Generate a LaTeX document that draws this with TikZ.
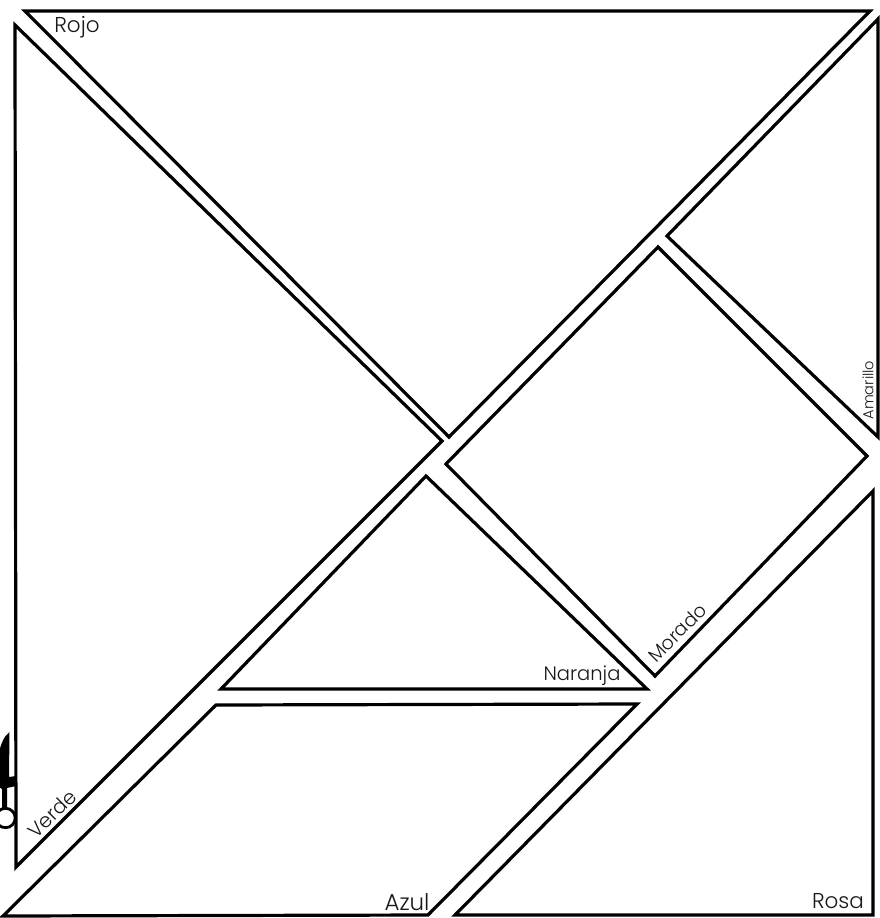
\documentclass[tikz,border=0pt]{standalone}
\usepackage{fontspec}
\setmainfont{Poppins Light}
\tikzset{
  piece/.style={draw=black,line width=3.2pt,line join=miter,miter limit=10,fill=white},
  lbl/.style={inner sep=0pt,text=black!90},
}
\begin{document}
\begin{tikzpicture}[x=1pt,y=-1pt]
\useasboundingbox (0,0) rectangle (880,918);
\fill[white] (0,0) rectangle (880,918);
% scissors
\begin{scope}
\clip (0,0) rectangle (880,918);
\fill[black] (9.5,732) .. controls (4,736) and (1,744) .. (-1,752) -- (-1,787) -- (2,789) -- (2,810) -- (7,810) -- (7,788) -- (16,786) -- (16,776) -- (9,777) -- cycle;
\draw[black,line width=2.8pt,fill=white] (5.5,818) circle (9.7);
\end{scope}
% pieces
\draw[piece] (25,11) -- (870,11) -- (449,437) -- cycle;
\draw[piece] (15,25) -- (442,441) -- (16,867) -- cycle;
\draw[piece] (878,19) -- (667,236) -- (878,437) -- cycle;
\draw[piece] (658,247) -- (867,456) -- (655,676) -- (446,464) -- cycle;
\draw[piece] (426,476) -- (647,689) -- (221,689) -- cycle;
\draw[piece] (216,705) -- (637,704) -- (428,915) -- (3,916) -- cycle;
\draw[piece] (873,491) -- (873,915) -- (455,915) -- cycle;
% labels
\node[lbl,font=\fontsize{21.5}{21.5}\selectfont,anchor=center] (rojo) at (77,27) {Rojo};
\node[lbl,font=\fontsize{20}{20}\selectfont,rotate=45,anchor=center] (verde) at (52,814) {Verde};
\node[lbl,font=\fontsize{19.5}{19.5}\selectfont,anchor=center] (naranja) at (582,676) {Naranja};
\node[lbl,font=\fontsize{19}{19}\selectfont,rotate=45,anchor=center] (morado) at (677,633) {Morado};
\node[lbl,font=\fontsize{14.5}{14.5}\selectfont,rotate=90,anchor=center] (amarillo) at (868,390) {Amarillo};
\node[lbl,font=\fontsize{23}{23}\selectfont,anchor=center] (azul) at (407,902) {Azul};
\node[lbl,font=\fontsize{21.5}{21.5}\selectfont,anchor=center] (rosa) at (838,901) {Rosa};
\end{tikzpicture}
\end{document}
